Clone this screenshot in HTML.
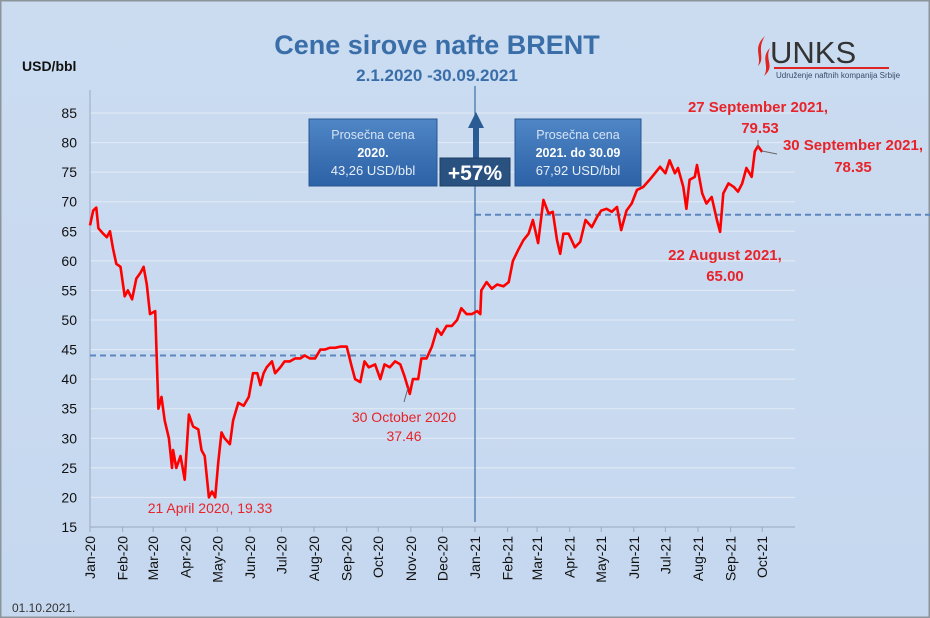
<!DOCTYPE html>
<html><head><meta charset="utf-8"><style>
body{margin:0;width:930px;height:618px;overflow:hidden;font-family:"Liberation Sans",sans-serif}
svg{display:block}
</style></head><body>
<svg width="930" height="618" viewBox="0 0 930 618" xmlns="http://www.w3.org/2000/svg">
<defs>
<linearGradient id="bg" x1="0" y1="0" x2="0" y2="1"><stop offset="0" stop-color="#cbdcf1"/><stop offset="1" stop-color="#c6d8ef"/></linearGradient>
<linearGradient id="box" x1="0" y1="0" x2="0" y2="1"><stop offset="0" stop-color="#4f86c6"/><stop offset="1" stop-color="#2c62a6"/></linearGradient>
</defs>
<rect x="0" y="0" width="930" height="618" fill="url(#bg)" stroke="#8e949c" stroke-width="3"/>
<text x="437" y="54" text-anchor="middle" font-size="27" font-weight="bold" fill="#3a6ea8">Cene sirove nafte BRENT</text>
<text x="437" y="81" text-anchor="middle" font-size="17" font-weight="bold" fill="#3a6ea8">2.1.2020 -30.09.2021</text>
<text x="22" y="71" font-size="14" font-weight="bold" fill="#111">USD/bbl</text>
<g>
<path d="M765 36 C752 48 762 56 758 66 C766 58 756 50 765 36Z M770 48 C760 58 770 66 764 76 C776 66 764 60 770 48Z" fill="#e02424"/>
<text x="770" y="63" font-size="31" fill="#333">UNKS</text>
<rect x="774" y="67" width="115" height="2" fill="#e02424"/>
<text x="776" y="78" font-size="8" fill="#3a4a6a">Udruženje naftnih kompanija Srbije</text>
</g>
<g id="grid"></g>
<g id="axes"></g>
<line id="avg20" stroke="#5b86c0" stroke-width="2" stroke-dasharray="6,4"/>
<line id="avg21" stroke="#5b86c0" stroke-width="2" stroke-dasharray="6,4"/>
<line x1="475" y1="86" x2="475" y2="522" stroke="#3a6ea8" stroke-width="1.2"/>
<path d="M476 112 L484 128 L479 128 L479 160 L473 160 L473 128 L468 128Z" fill="#2a5b92"/>
<g>
<rect x="309" y="119" width="128" height="67" fill="url(#box)" stroke="#2a5690"/>
<text x="373" y="139" text-anchor="middle" font-size="12.5" fill="#d6e4f5">Prosečna cena</text>
<text x="373" y="157" text-anchor="middle" font-size="12.5" font-weight="bold" fill="#fff">2020.</text>
<text x="373" y="175" text-anchor="middle" font-size="13" fill="#e6eef8">43,26 USD/bbl</text>
</g>
<g>
<rect x="515" y="119" width="126" height="67" fill="url(#box)" stroke="#2a5690"/>
<text x="578" y="139" text-anchor="middle" font-size="12.5" fill="#d6e4f5">Prosečna cena</text>
<text x="578" y="157" text-anchor="middle" font-size="12.5" font-weight="bold" fill="#fff">2021. do 30.09</text>
<text x="578" y="175" text-anchor="middle" font-size="13" fill="#e6eef8">67,92 USD/bbl</text>
</g>
<g>
<rect x="440" y="158" width="70" height="28" fill="#2a5280" stroke="#1f3f66"/>
<text x="475" y="180" text-anchor="middle" font-size="21" font-weight="bold" fill="#fff">+57%</text>
</g>
<polyline id="line" fill="none" stroke="#f00" stroke-width="2.6" stroke-linejoin="round"/>
<g font-size="14" fill="#e8232a">
<text x="210" y="513" text-anchor="middle">21 April 2020, 19.33</text>
<line x1="408" y1="388" x2="404" y2="402" stroke="#666"/>
<text x="404" y="422" text-anchor="middle">30 October 2020</text>
<text x="404" y="441" text-anchor="middle">37.46</text>
<g font-weight="bold" font-size="15">
<text x="758" y="112" text-anchor="middle">27 September 2021,</text>
<text x="760" y="133" text-anchor="middle">79.53</text>
<text x="853" y="150" text-anchor="middle">30 September 2021,</text>
<text x="853" y="172" text-anchor="middle">78.35</text>
<text x="725" y="260" text-anchor="middle">22 August 2021,</text>
<text x="725" y="281" text-anchor="middle">65.00</text>
</g>
<line x1="758" y1="140" x2="758" y2="148" stroke="#666"/>
<line x1="762" y1="151" x2="777" y2="154" stroke="#666"/>
</g>
<text x="12" y="612" font-size="12" fill="#333">01.10.2021.</text>
</svg>
<script>
const yTicks=[15,20,25,30,35,40,45,50,55,60,65,70,75,80,85];
const monthLabels=["Jan-20","Feb-20","Mar-20","Apr-20","May-20","Jun-20","Jul-20","Aug-20","Sep-20","Oct-20","Nov-20","Dec-20","Jan-21","Feb-21","Mar-21","Apr-21","May-21","Jun-21","Jul-21","Aug-21","Sep-21","Oct-21"];
const monthDays=[0,31,60,91,121,152,182,213,244,274,305,335,366,397,425,456,486,517,547,578,609,639];
const days=[0,3,6,8,13,16,19,22,25,29,33,36,40,44,48,51,54,57,62,65,68,71,75,78,79,82,86,90,94,98,103,106,109,113,116,119,122,125,128,133,136,141,146,151,155,159,162,165,168,173,176,181,185,190,195,200,204,209,214,219,223,228,233,238,244,249,252,257,261,265,271,276,280,285,290,295,299,304,307,312,315,320,325,330,334,339,344,349,353,358,363,368,371,372,377,382,387,393,398,402,407,412,417,421,426,431,436,440,444,447,450,455,461,466,471,477,482,486,491,496,501,505,510,515,520,526,532,537,542,547,551,556,559,564,567,570,575,577,582,586,591,596,599,602,607,612,616,620,624,629,632,635,639];
const prices=[66,68.5,69,65.5,64.5,64,65,62,59.5,59,54,55,53.5,57,58,59,56,51,51.5,35,37,33,30,25,28,25,27,23,34,32,31.5,28,27,20,21,20,26,31,30,29,33,36,35.5,37,41,41,39,41,42,43,41,42,43,43,43.5,43.5,44,43.5,43.5,45,45,45.3,45.3,45.5,45.5,42,40,39.5,43,42,42.5,40,42.5,42,43,42.5,40.5,37.5,40,40,43.5,43.5,45.5,48.5,47.5,49,49,50,52,51,51,51.5,51,55,56.4,55.3,56,55.7,56.4,60,61.8,63.5,64.6,66.9,63,70.3,68,68.3,63.5,61.2,64.6,64.6,62.3,63.2,66.9,65.7,67.4,68.5,68.8,68.3,69.1,65.2,68.5,69.7,72,72.5,73.7,74.8,75.9,74.8,77,74.8,75.7,72.5,68.8,73.7,74.2,76.2,71.4,69.7,70.8,66.9,64.9,71.4,73.1,72.5,71.7,73.1,75.7,74.2,78.5,79.4,78.4];
const avg2020=44, avg2021=67.8;
const X0=90,X1=795;
function xs(d){return X0+d*385/366;}
function ys(v){return 527-(v-15)*(414/70);}
const NS="http://www.w3.org/2000/svg";
const grid=document.getElementById('grid'),axes=document.getElementById('axes');
yTicks.forEach(v=>{
 const l=document.createElementNS(NS,'line');
 
 
 l.setAttribute('x1',X0);l.setAttribute('x2',X1);l.setAttribute('y1',ys(v));l.setAttribute('y2',ys(v));
 l.setAttribute('stroke',v===15?'#9aaabf':'#e3ebf6');l.setAttribute('stroke-width','1');
 grid.appendChild(l);
 const t=document.createElementNS(NS,'text');
 
 
 t.setAttribute('x',77);t.setAttribute('y',ys(v)+5);t.setAttribute('text-anchor','end');t.setAttribute('font-size','14');t.setAttribute('fill','#111');
 t.textContent=v;axes.appendChild(t);
});
const ax=document.createElementNS(NS,'line');


ax.setAttribute('x1',X0);ax.setAttribute('x2',X0);ax.setAttribute('y1',90);ax.setAttribute('y2',ys(15));ax.setAttribute('stroke','#9aaabf');
axes.appendChild(ax);
monthLabels.forEach((m,i)=>{
 const x=xs(monthDays[i]);
 const tk=document.createElementNS(NS,'line');
 
 
 tk.setAttribute('x1',x);tk.setAttribute('x2',x);tk.setAttribute('y1',ys(15));tk.setAttribute('y2',ys(15)+5);tk.setAttribute('stroke','#9aaabf');
 axes.appendChild(tk);
 const t=document.createElementNS(NS,'text');
 
 
 t.setAttribute('transform',`translate(${x+5},536) rotate(-90)`);t.setAttribute('text-anchor','end');t.setAttribute('font-size','14');t.setAttribute('fill','#111');
 t.textContent=m;axes.appendChild(t);
});
document.getElementById('line').setAttribute('points',days.map((d,i)=>xs(d).toFixed(1)+','+ys(prices[i]).toFixed(1)).join(' '));
const a0=document.getElementById('avg20');
a0.setAttribute('x1',X0);a0.setAttribute('x2',xs(366));a0.setAttribute('y1',ys(avg2020));a0.setAttribute('y2',ys(avg2020));
const a1=document.getElementById('avg21');
a1.setAttribute('x1',xs(366));a1.setAttribute('x2',930);a1.setAttribute('y1',ys(avg2021));a1.setAttribute('y2',ys(avg2021));
</script>
</body></html>
